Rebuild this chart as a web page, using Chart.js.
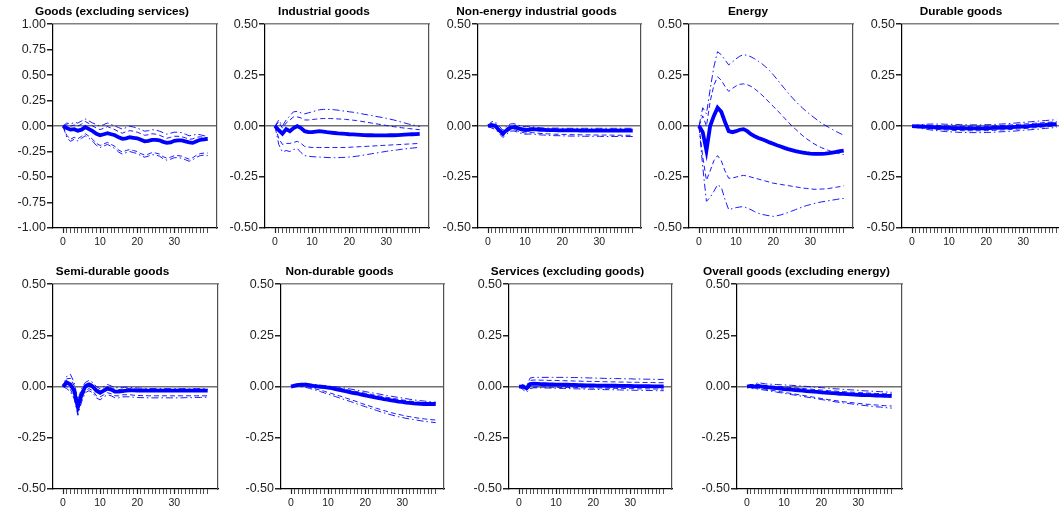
<!DOCTYPE html>
<html><head><meta charset="utf-8">
<script src="https://cdn.jsdelivr.net/npm/chart.js@4"></script>
<style>
html,body{margin:0;padding:0;background:#fff;overflow:hidden;width:1059px;height:507px;position:relative}
canvas{position:absolute}
</style></head><body>
<script>
const horizons = [0,1,2,3,4,5,6,7,8,9,10,11,12,13,14,15,16,17,18,19,20,21,22,23,24,25,26,27,28,29,30,31,32,33,34,35,36,37,38,39];
const xLabelTicks = [0,10,20,30];
const titles = ['Goods (excluding services)','Industrial goods','Non-energy industrial goods','Energy','Durable goods','Semi-durable goods','Non-durable goods','Services (excluding goods)','Overall goods (excluding energy)'];
const yRanges = [[-1,1],[-0.5,0.5],[-0.5,0.5],[-0.5,0.5],[-0.5,0.5],[-0.5,0.5],[-0.5,0.5],[-0.5,0.5],[-0.5,0.5]];

// 1 Goods (excluding services)
const goodsMedian = [0,-0.02,-0.035,-0.03,-0.045,-0.035,-0.01,-0.03,-0.05,-0.075,-0.09,-0.08,-0.07,-0.08,-0.09,-0.11,-0.125,-0.12,-0.11,-0.115,-0.12,-0.135,-0.15,-0.145,-0.135,-0.135,-0.14,-0.155,-0.165,-0.16,-0.145,-0.14,-0.14,-0.15,-0.16,-0.165,-0.15,-0.135,-0.13,-0.125];
const goodsUp90 = [0,0.03,0.02,0.035,0.03,0.05,0.07,0.05,0.03,0.015,0,0.015,0.03,0.015,0,-0.015,-0.03,-0.015,0,-0.01,-0.02,-0.035,-0.05,-0.045,-0.035,-0.04,-0.05,-0.065,-0.08,-0.07,-0.06,-0.06,-0.065,-0.08,-0.095,-0.09,-0.08,-0.085,-0.095,-0.1];
const goodsUp68 = [0,0.015,0,0.01,0,0.02,0.045,0.025,0,-0.02,-0.035,-0.02,-0.005,-0.02,-0.035,-0.055,-0.07,-0.055,-0.045,-0.05,-0.06,-0.075,-0.09,-0.085,-0.075,-0.08,-0.09,-0.105,-0.12,-0.11,-0.1,-0.1,-0.105,-0.115,-0.13,-0.125,-0.11,-0.105,-0.11,-0.115];
const goodsLo68 = [0,-0.09,-0.13,-0.11,-0.125,-0.1,-0.075,-0.1,-0.13,-0.17,-0.19,-0.175,-0.16,-0.18,-0.2,-0.235,-0.255,-0.24,-0.23,-0.24,-0.25,-0.27,-0.285,-0.275,-0.26,-0.265,-0.275,-0.3,-0.315,-0.305,-0.29,-0.29,-0.295,-0.31,-0.325,-0.31,-0.285,-0.27,-0.265,-0.265];
const goodsLo90 = [0,-0.11,-0.15,-0.13,-0.145,-0.12,-0.095,-0.12,-0.15,-0.19,-0.21,-0.195,-0.18,-0.2,-0.22,-0.255,-0.275,-0.26,-0.25,-0.26,-0.27,-0.29,-0.305,-0.295,-0.28,-0.285,-0.295,-0.32,-0.335,-0.325,-0.31,-0.31,-0.315,-0.33,-0.345,-0.33,-0.305,-0.29,-0.285,-0.29];

// 2 Industrial goods
const indMedian = [0,-0.02,-0.037,-0.015,-0.025,-0.01,0,-0.01,-0.025,-0.03,-0.03,-0.027,-0.025,-0.027,-0.03,-0.032,-0.034,-0.036,-0.037,-0.038,-0.04,-0.041,-0.042,-0.043,-0.044,-0.045,-0.045,-0.046,-0.046,-0.046,-0.046,-0.045,-0.045,-0.044,-0.043,-0.042,-0.041,-0.04,-0.039,-0.038];
const indUp90 = [0,0.03,0,0.03,0.05,0.07,0.072,0.065,0.06,0.065,0.07,0.075,0.08,0.082,0.082,0.081,0.08,0.078,0.075,0.073,0.07,0.068,0.065,0.062,0.058,0.055,0.052,0.048,0.045,0.042,0.038,0.034,0.03,0.025,0.02,0.015,0.01,0.006,0.002,-0.002];
const indUp68 = [0,0.02,-0.01,0.015,0.03,0.045,0.045,0.04,0.03,0.03,0.032,0.034,0.036,0.037,0.037,0.037,0.036,0.035,0.034,0.033,0.031,0.029,0.027,0.024,0.021,0.018,0.015,0.012,0.009,0.006,0.003,0,-0.003,-0.005,-0.008,-0.01,-0.012,-0.014,-0.016,-0.018];
const indLo68 = [0,-0.06,-0.09,-0.085,-0.085,-0.08,-0.075,-0.085,-0.1,-0.103,-0.105,-0.105,-0.105,-0.105,-0.105,-0.105,-0.105,-0.105,-0.105,-0.105,-0.104,-0.103,-0.102,-0.101,-0.1,-0.099,-0.098,-0.097,-0.096,-0.095,-0.094,-0.093,-0.092,-0.091,-0.09,-0.089,-0.088,-0.087,-0.086,-0.085];
const indLo90 = [0,-0.09,-0.127,-0.12,-0.125,-0.115,-0.11,-0.13,-0.145,-0.148,-0.15,-0.151,-0.152,-0.153,-0.154,-0.155,-0.155,-0.155,-0.154,-0.153,-0.152,-0.15,-0.148,-0.145,-0.142,-0.139,-0.136,-0.133,-0.13,-0.127,-0.124,-0.121,-0.119,-0.117,-0.114,-0.112,-0.11,-0.108,-0.106,-0.104];

// 3 Non-energy industrial goods
const neiMedian = [0,0.005,0,-0.02,-0.037,-0.02,-0.008,-0.005,-0.01,-0.016,-0.02,-0.018,-0.015,-0.016,-0.018,-0.019,-0.02,-0.02,-0.02,-0.021,-0.021,-0.021,-0.021,-0.021,-0.021,-0.022,-0.022,-0.022,-0.022,-0.022,-0.022,-0.022,-0.022,-0.022,-0.022,-0.022,-0.022,-0.022,-0.022,-0.022];
const neiUp90 = [0,0.022,0.02,0,-0.02,0,0.01,0.012,0.005,0,-0.003,-0.003,-0.004,-0.006,-0.008,-0.009,-0.01,-0.01,-0.01,-0.01,-0.011,-0.011,-0.011,-0.011,-0.011,-0.011,-0.011,-0.011,-0.011,-0.011,-0.011,-0.011,-0.011,-0.011,-0.011,-0.011,-0.011,-0.011,-0.011,-0.011];
const neiUp68 = [0,0.015,0.012,-0.008,-0.027,-0.01,0.002,0.004,-0.002,-0.008,-0.011,-0.01,-0.009,-0.011,-0.013,-0.014,-0.015,-0.015,-0.015,-0.016,-0.016,-0.016,-0.016,-0.016,-0.016,-0.016,-0.016,-0.016,-0.016,-0.016,-0.016,-0.016,-0.016,-0.016,-0.016,-0.016,-0.016,-0.016,-0.016,-0.016];
const neiLo68 = [0,-0.004,-0.01,-0.03,-0.048,-0.032,-0.018,-0.017,-0.024,-0.03,-0.034,-0.033,-0.032,-0.034,-0.036,-0.037,-0.038,-0.039,-0.04,-0.04,-0.041,-0.041,-0.042,-0.042,-0.042,-0.043,-0.043,-0.043,-0.043,-0.044,-0.044,-0.044,-0.044,-0.044,-0.045,-0.045,-0.045,-0.045,-0.045,-0.045];
const neiLo90 = [0,-0.01,-0.016,-0.036,-0.056,-0.04,-0.025,-0.024,-0.03,-0.036,-0.04,-0.039,-0.039,-0.041,-0.043,-0.044,-0.045,-0.046,-0.047,-0.047,-0.048,-0.048,-0.049,-0.049,-0.049,-0.05,-0.05,-0.05,-0.05,-0.05,-0.05,-0.051,-0.051,-0.051,-0.051,-0.051,-0.051,-0.051,-0.051,-0.051];

// 4 Energy
const enMedian = [0,-0.03,-0.12,0,0.05,0.09,0.07,0.02,-0.025,-0.03,-0.025,-0.018,-0.015,-0.025,-0.04,-0.05,-0.058,-0.065,-0.072,-0.08,-0.087,-0.094,-0.1,-0.107,-0.113,-0.118,-0.123,-0.127,-0.13,-0.133,-0.135,-0.136,-0.136,-0.136,-0.135,-0.133,-0.13,-0.127,-0.123,-0.12];
const enUp90 = [0,0.09,0.06,0.18,0.29,0.365,0.35,0.325,0.3,0.315,0.33,0.343,0.35,0.347,0.34,0.33,0.318,0.305,0.29,0.272,0.252,0.23,0.207,0.185,0.163,0.142,0.122,0.104,0.087,0.071,0.056,0.042,0.028,0.015,0.004,-0.007,-0.017,-0.027,-0.036,-0.045];
const enUp68 = [0,0.05,0,0.12,0.2,0.242,0.225,0.195,0.17,0.185,0.197,0.205,0.207,0.203,0.195,0.183,0.168,0.152,0.134,0.115,0.097,0.078,0.06,0.04,0.02,0.002,-0.015,-0.032,-0.048,-0.062,-0.075,-0.087,-0.097,-0.106,-0.113,-0.12,-0.126,-0.131,-0.136,-0.14];
const enLo68 = [0,-0.15,-0.266,-0.22,-0.17,-0.145,-0.17,-0.22,-0.256,-0.255,-0.25,-0.245,-0.242,-0.245,-0.25,-0.255,-0.26,-0.265,-0.27,-0.275,-0.28,-0.283,-0.286,-0.289,-0.292,-0.295,-0.298,-0.301,-0.304,-0.306,-0.308,-0.31,-0.31,-0.309,-0.308,-0.306,-0.303,-0.3,-0.297,-0.293];
const enLo90 = [0,-0.2,-0.369,-0.35,-0.32,-0.288,-0.3,-0.36,-0.41,-0.405,-0.4,-0.397,-0.395,-0.402,-0.41,-0.42,-0.428,-0.433,-0.437,-0.44,-0.443,-0.44,-0.436,-0.43,-0.424,-0.417,-0.41,-0.403,-0.396,-0.39,-0.385,-0.38,-0.376,-0.372,-0.369,-0.366,-0.363,-0.36,-0.357,-0.355];

// 5 Durable goods
const durMedian = [0,-0.001,-0.002,-0.003,-0.004,-0.005,-0.006,-0.007,-0.008,-0.009,-0.009,-0.01,-0.01,-0.01,-0.011,-0.011,-0.011,-0.011,-0.011,-0.011,-0.01,-0.01,-0.009,-0.009,-0.008,-0.007,-0.006,-0.005,-0.004,-0.003,-0.002,-0.001,0.001,0.002,0.004,0.005,0.006,0.008,0.009,0.01];
const durUp90 = [0,0.004,0.006,0.008,0.009,0.01,0.01,0.01,0.01,0.009,0.009,0.008,0.008,0.007,0.007,0.006,0.006,0.006,0.006,0.006,0.007,0.007,0.008,0.009,0.01,0.011,0.012,0.014,0.015,0.017,0.018,0.02,0.021,0.023,0.024,0.026,0.027,0.029,0.03,0.032];
const durUp68 = [0,0.002,0.003,0.004,0.004,0.004,0.003,0.003,0.002,0.001,0.001,0,0,-0.001,-0.001,-0.001,-0.001,-0.001,-0.001,-0.001,0,0,0.001,0.002,0.003,0.004,0.005,0.006,0.007,0.009,0.01,0.011,0.012,0.014,0.015,0.016,0.018,0.019,0.02,0.022];
const durLo68 = [0,-0.004,-0.007,-0.009,-0.011,-0.013,-0.015,-0.017,-0.018,-0.019,-0.02,-0.021,-0.022,-0.022,-0.023,-0.023,-0.023,-0.023,-0.023,-0.023,-0.022,-0.022,-0.021,-0.02,-0.019,-0.018,-0.017,-0.016,-0.015,-0.014,-0.012,-0.011,-0.01,-0.008,-0.007,-0.005,-0.004,-0.002,-0.001,0];
const durLo90 = [0,-0.006,-0.01,-0.013,-0.016,-0.019,-0.021,-0.023,-0.025,-0.027,-0.028,-0.029,-0.03,-0.031,-0.031,-0.032,-0.032,-0.032,-0.032,-0.032,-0.031,-0.031,-0.03,-0.029,-0.028,-0.027,-0.026,-0.025,-0.024,-0.022,-0.021,-0.019,-0.018,-0.016,-0.015,-0.013,-0.011,-0.01,-0.008,-0.006];

// 6 Semi-durable goods
const semMedian = [0,0.02,0.01,-0.02,-0.1,-0.04,0,0.01,0,-0.02,-0.03,-0.02,-0.01,-0.015,-0.025,-0.025,-0.022,-0.02,-0.018,-0.019,-0.02,-0.02,-0.02,-0.02,-0.02,-0.02,-0.02,-0.02,-0.02,-0.02,-0.02,-0.02,-0.02,-0.02,-0.02,-0.02,-0.02,-0.02,-0.02,-0.02];
const semUp90 = [0,0.05,0.06,0.02,-0.065,-0.01,0.02,0.03,0.02,0,-0.01,0,0.01,0.003,-0.005,-0.006,-0.004,-0.003,-0.004,-0.006,-0.007,-0.008,-0.008,-0.009,-0.009,-0.009,-0.01,-0.01,-0.01,-0.01,-0.01,-0.01,-0.01,-0.01,-0.01,-0.01,-0.01,-0.01,-0.01,-0.01];
const semUp68 = [0,0.038,0.04,0.005,-0.08,-0.022,0.01,0.02,0.01,-0.01,-0.02,-0.01,0,-0.006,-0.014,-0.015,-0.012,-0.011,-0.011,-0.012,-0.013,-0.013,-0.013,-0.014,-0.014,-0.014,-0.014,-0.014,-0.014,-0.014,-0.014,-0.014,-0.014,-0.014,-0.014,-0.014,-0.014,-0.014,-0.014,-0.014];
const semLo68 = [0,0.002,-0.015,-0.05,-0.12,-0.06,-0.02,-0.01,-0.02,-0.045,-0.05,-0.04,-0.03,-0.035,-0.045,-0.045,-0.04,-0.04,-0.04,-0.042,-0.043,-0.044,-0.044,-0.045,-0.045,-0.045,-0.045,-0.045,-0.045,-0.045,-0.045,-0.045,-0.045,-0.045,-0.045,-0.045,-0.045,-0.045,-0.045,-0.045];
const semLo90 = [0,-0.01,-0.025,-0.06,-0.14,-0.075,-0.03,-0.02,-0.03,-0.055,-0.065,-0.05,-0.04,-0.045,-0.055,-0.055,-0.05,-0.05,-0.05,-0.052,-0.053,-0.054,-0.054,-0.055,-0.055,-0.055,-0.055,-0.055,-0.055,-0.055,-0.055,-0.055,-0.055,-0.054,-0.054,-0.054,-0.053,-0.053,-0.052,-0.052];

// 7 Non-durable goods
const ndMedian = [0,0.005,0.008,0.01,0.01,0.006,0.003,0.001,-0.001,-0.003,-0.005,-0.008,-0.012,-0.016,-0.02,-0.024,-0.028,-0.032,-0.035,-0.039,-0.043,-0.047,-0.05,-0.054,-0.057,-0.061,-0.064,-0.067,-0.07,-0.073,-0.075,-0.078,-0.08,-0.082,-0.083,-0.084,-0.085,-0.085,-0.085,-0.085];
const ndUp90 = [0,0.01,0.014,0.016,0.016,0.013,0.011,0.009,0.007,0.005,0.003,0.001,-0.001,-0.003,-0.006,-0.009,-0.012,-0.015,-0.018,-0.021,-0.024,-0.028,-0.031,-0.034,-0.037,-0.041,-0.044,-0.047,-0.05,-0.053,-0.056,-0.059,-0.062,-0.065,-0.067,-0.069,-0.071,-0.073,-0.075,-0.076];
const ndUp68 = [0,0.008,0.012,0.014,0.014,0.01,0.008,0.006,0.004,0.002,0,-0.003,-0.006,-0.009,-0.012,-0.015,-0.019,-0.022,-0.025,-0.029,-0.032,-0.036,-0.039,-0.043,-0.046,-0.05,-0.053,-0.056,-0.059,-0.062,-0.065,-0.068,-0.071,-0.073,-0.075,-0.077,-0.079,-0.08,-0.081,-0.082];
const ndLo68 = [0,0.003,0.004,0.004,0.002,-0.003,-0.008,-0.013,-0.018,-0.023,-0.029,-0.034,-0.04,-0.045,-0.051,-0.057,-0.063,-0.069,-0.075,-0.082,-0.088,-0.094,-0.1,-0.106,-0.111,-0.117,-0.122,-0.127,-0.132,-0.136,-0.14,-0.144,-0.147,-0.15,-0.153,-0.156,-0.158,-0.16,-0.162,-0.163];
const ndLo90 = [0,0,0,-0.001,-0.004,-0.009,-0.014,-0.019,-0.025,-0.031,-0.037,-0.043,-0.049,-0.055,-0.061,-0.067,-0.073,-0.079,-0.086,-0.092,-0.098,-0.104,-0.11,-0.116,-0.122,-0.128,-0.133,-0.138,-0.143,-0.147,-0.151,-0.155,-0.158,-0.161,-0.164,-0.167,-0.17,-0.172,-0.174,-0.176];

// 8 Services (excluding goods)
const srvMedian = [0,0,-0.008,0.012,0.014,0.013,0.012,0.012,0.011,0.011,0.01,0.01,0.009,0.009,0.008,0.008,0.007,0.007,0.006,0.006,0.006,0.005,0.005,0.005,0.004,0.004,0.004,0.003,0.003,0.003,0.003,0.002,0.002,0.002,0.002,0.002,0.001,0.001,0.001,0.001];
const srvUp90 = [0,0.01,0.002,0.042,0.045,0.045,0.045,0.045,0.045,0.045,0.045,0.045,0.045,0.045,0.044,0.044,0.044,0.043,0.043,0.042,0.042,0.041,0.041,0.04,0.04,0.04,0.039,0.039,0.038,0.038,0.038,0.037,0.037,0.037,0.036,0.036,0.036,0.035,0.035,0.035];
const srvUp68 = [0,0.006,-0.002,0.03,0.032,0.032,0.031,0.031,0.03,0.03,0.03,0.029,0.029,0.028,0.028,0.027,0.027,0.026,0.026,0.025,0.025,0.025,0.024,0.024,0.023,0.023,0.023,0.022,0.022,0.022,0.021,0.021,0.021,0.02,0.02,0.02,0.02,0.019,0.019,0.019];
const srvLo68 = [0,-0.008,-0.018,-0.004,-0.002,-0.002,-0.002,-0.002,-0.003,-0.003,-0.003,-0.004,-0.004,-0.004,-0.005,-0.005,-0.005,-0.006,-0.006,-0.006,-0.007,-0.007,-0.007,-0.008,-0.008,-0.008,-0.009,-0.009,-0.009,-0.01,-0.01,-0.01,-0.011,-0.011,-0.011,-0.011,-0.012,-0.012,-0.012,-0.012];
const srvLo90 = [0,-0.014,-0.028,-0.01,-0.006,-0.006,-0.006,-0.007,-0.007,-0.008,-0.008,-0.009,-0.009,-0.01,-0.01,-0.011,-0.011,-0.012,-0.012,-0.013,-0.013,-0.014,-0.014,-0.015,-0.015,-0.015,-0.016,-0.016,-0.017,-0.017,-0.017,-0.018,-0.018,-0.018,-0.019,-0.019,-0.019,-0.02,-0.02,-0.02];

// 9 Overall goods (excluding energy)
const ovrMedian = [0,0.003,0,0.003,0,-0.002,-0.004,-0.006,-0.008,-0.01,-0.012,-0.014,-0.015,-0.017,-0.018,-0.02,-0.022,-0.023,-0.025,-0.026,-0.028,-0.029,-0.031,-0.032,-0.033,-0.035,-0.036,-0.037,-0.038,-0.039,-0.04,-0.041,-0.042,-0.042,-0.043,-0.044,-0.044,-0.045,-0.045,-0.046];
const ovrUp90 = [0,0.01,0.01,0.02,0.016,0.013,0.012,0.011,0.01,0.009,0.008,0.007,0.006,0.005,0.004,0.002,0.001,-0.001,-0.002,-0.004,-0.005,-0.007,-0.008,-0.01,-0.011,-0.012,-0.014,-0.015,-0.016,-0.017,-0.018,-0.02,-0.021,-0.022,-0.023,-0.024,-0.025,-0.026,-0.027,-0.028];
const ovrUp68 = [0,0.007,0.005,0.012,0.008,0.005,0.004,0.002,0.001,0,-0.002,-0.003,-0.005,-0.006,-0.008,-0.009,-0.011,-0.012,-0.014,-0.015,-0.017,-0.018,-0.02,-0.021,-0.022,-0.024,-0.025,-0.026,-0.027,-0.028,-0.029,-0.03,-0.031,-0.032,-0.033,-0.034,-0.034,-0.035,-0.035,-0.036];
const ovrLo68 = [0,-0.004,-0.008,-0.008,-0.01,-0.013,-0.016,-0.019,-0.022,-0.025,-0.028,-0.031,-0.034,-0.037,-0.04,-0.043,-0.046,-0.049,-0.052,-0.055,-0.058,-0.061,-0.064,-0.066,-0.069,-0.071,-0.074,-0.076,-0.078,-0.08,-0.082,-0.084,-0.086,-0.087,-0.089,-0.09,-0.092,-0.093,-0.094,-0.095];
const ovrLo90 = [0,-0.006,-0.012,-0.012,-0.015,-0.018,-0.021,-0.024,-0.027,-0.03,-0.033,-0.036,-0.039,-0.042,-0.045,-0.048,-0.051,-0.054,-0.057,-0.06,-0.063,-0.066,-0.069,-0.072,-0.075,-0.077,-0.08,-0.082,-0.084,-0.087,-0.089,-0.091,-0.093,-0.095,-0.097,-0.099,-0.1,-0.102,-0.104,-0.105];

const seriesSets = [
  [goodsMedian, goodsUp68, goodsLo68, goodsUp90, goodsLo90],
  [indMedian, indUp68, indLo68, indUp90, indLo90],
  [neiMedian, neiUp68, neiLo68, neiUp90, neiLo90],
  [enMedian, enUp68, enLo68, enUp90, enLo90],
  [durMedian, durUp68, durLo68, durUp90, durLo90],
  [semMedian, semUp68, semLo68, semUp90, semLo90],
  [ndMedian, ndUp68, ndLo68, ndUp90, ndLo90],
  [srvMedian, srvUp68, srvLo68, srvUp90, srvLo90],
  [ovrMedian, ovrUp68, ovrLo68, ovrUp90, ovrLo90]
];

// ---- layout / style (not data) ----
const boxes = [
  {L:53, T:24, W:164, H:204},
  {L:265, T:24, W:164, H:204},
  {L:478, T:24, W:163, H:204},
  {L:689, T:24, W:164, H:204},
  {L:902, T:24, W:164, H:204},
  {L:53, T:284, W:165, H:205},
  {L:281, T:284, W:163, H:205},
  {L:509, T:284, W:163, H:205},
  {L:737, T:284, W:165, H:205}
];
const AXW = 46, TITLEH = 24, XAXH = 22, PADR = 3;
const BLUE = '#0000ff';
const lineStyles = [
  {borderWidth:3.8, borderDash:[], borderColor:BLUE},
  {borderWidth:1, borderDash:[5,3], borderColor:'rgba(0,0,255,0.9)'},
  {borderWidth:1, borderDash:[5,3], borderColor:'rgba(0,0,255,0.9)'},
  {borderWidth:1, borderDash:[7,3,1.5,3], borderColor:'rgba(0,0,255,0.9)'},
  {borderWidth:1, borderDash:[7,3,1.5,3], borderColor:'rgba(0,0,255,0.9)'}
];

Chart.defaults.font.family = "'Liberation Sans', Arial, sans-serif";
Chart.defaults.animation = false;

titles.forEach((title, i) => {
  const b = boxes[i];
  const cv = document.createElement('canvas');
  const cw = b.W + AXW + PADR, ch = b.H + TITLEH + XAXH;
  cv.width = cw; cv.height = ch;
  cv.style.left = (b.L - AXW) + 'px';
  cv.style.top = (b.T - TITLEH) + 'px';
  cv.style.width = cw + 'px'; cv.style.height = ch + 'px';
  document.body.appendChild(cv);
  const xMax = -2.7 + b.W / 3.71;
  const [yMin, yMax] = yRanges[i];
  new Chart(cv, {
    type: 'line',
    data: {
      labels: horizons,
      datasets: seriesSets[i].map((arr, k) => Object.assign({
        data: arr, pointRadius: 0, fill: false, tension: 0
      }, lineStyles[k]))
    },
    options: {
      responsive: false,
      devicePixelRatio: 1,
      layout: {padding: {left: 0, right: PADR, top: 0, bottom: 0}},
      plugins: {
        legend: {display: false},
        tooltip: {enabled: false},
        title: {display: true, text: title, color: '#000',
          font: {size: 11.8, weight: 'bold', family: "'Liberation Sans', Arial, sans-serif"},
          padding: {top: 5, bottom: 5}}
      },
      scales: {
        x: {
          type: 'linear', position: 'bottom', min: -2.7, max: xMax,
          afterBuildTicks: s => { s.ticks = horizons.map(v => ({value: v})); },
          afterFit: s => { s.height = XAXH; },
          ticks: {autoSkip: false, maxRotation: 0, padding: 3, color: '#222',
            font: {size: 10.5},
            callback: v => xLabelTicks.includes(v) ? String(v) : ''},
          grid: {drawOnChartArea: false, tickLength: 5, color: '#222',
            tickWidth: c => (c.tick && xLabelTicks.includes(c.tick.value)) ? 1.2 : 0.8},
          border: {display: true, color: '#000', width: 1.2}
        },
        xTop: {
          type: 'linear', position: 'top', min: -2.7, max: xMax,
          afterFit: s => { s.height = 0; },
          ticks: {display: false},
          grid: {display: false, drawOnChartArea: false, tickLength: 0},
          border: {display: true, color: '#808080', width: 1.5}
        },
        y: {
          type: 'linear', position: 'left', min: yMin, max: yMax,
          afterFit: s => { s.width = AXW; },
          ticks: {stepSize: 0.25, padding: 1, color: '#222',
            font: {size: 12.5, family: "'Liberation Sans', Arial, sans-serif"},
            callback: v => Number(v).toFixed(2)},
          grid: {drawOnChartArea: true, tickLength: 6, tickColor: '#222',
            color: c => (c.tick && Math.abs(c.tick.value) < 1e-9) ? '#707070' : 'rgba(0,0,0,0)',
            lineWidth: 1.5},
          border: {display: true, color: '#000', width: 1.2}
        },
        yRight: {
          type: 'linear', position: 'right', min: yMin, max: yMax,
          afterFit: s => { s.width = 0; },
          ticks: {display: false},
          grid: {display: false, drawOnChartArea: false, tickLength: 0},
          border: {display: true, color: '#505050', width: 1.2}
        }
      }
    }
  });
});
</script>
</body></html>
